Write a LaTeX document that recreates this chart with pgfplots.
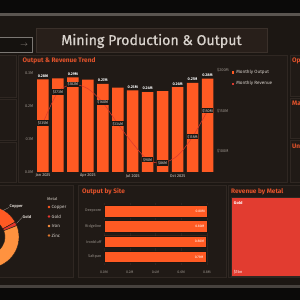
\documentclass[border=0pt]{standalone}
\usepackage{pgfplots}
\pgfplotsset{compat=1.18}
\usepackage{pgfplotstable}
\usepackage{fontspec}
\setmainfont{Fira Sans}
\newfontfamily\titlefont{Fira Sans}[FakeBold=0.6]

\definecolor{pagebg}{HTML}{1C1713}
\definecolor{panelbg}{HTML}{201A16}
\definecolor{panelrule}{HTML}{2F2722}
\definecolor{titlebg}{HTML}{281F1A}
\definecolor{titlerule}{HTML}{3A302A}
\definecolor{topbar}{HTML}{0B0A09}
\definecolor{rulegrey}{HTML}{5A5550}
\definecolor{gridline}{HTML}{2C2420}
\definecolor{accent}{HTML}{E4532B}
\definecolor{barorange}{HTML}{FF5A23}
\definecolor{linered}{HTML}{D9392E}
\definecolor{ticktext}{HTML}{968F88}
\definecolor{lighttext}{HTML}{D9D3CD}
\definecolor{copper}{HTML}{FF5A23}
\definecolor{gold}{HTML}{E3372D}
\definecolor{iron}{HTML}{FF923F}
\definecolor{zinc}{HTML}{D8752E}
\definecolor{treered}{HTML}{E23C30}

\newcommand{\fs}[1]{\fontsize{#1}{#1}\selectfont}
\pgfkeys{/pgf/number format/assume math mode=true}

% monthly output (M t) and revenue ($M); show* flags which labels are printed
\pgfplotstableread{
idx out showout rev showrev
0  0.281 1 135 1
1  0.284 0 173 1
2  0.287 1 182 1
3  0.280 0 177 0
4  0.267 1 160 1
5  0.256 0 134 1
6  0.247 1 110 0
7  0.242 1  90 1
8  0.245 0  86 1
9  0.257 1  95 0
10 0.270 1 118 1
11 0.283 1 150 1
}\trendtab

% output by site (M t)
\pgfplotstableread{
idx val
0 0.804
1 0.801
2 0.798
3 0.793
}\sitetab

% output share by metal (%)
\def\pCopper{17}
\def\pGold{2}
\def\pIron{65}
\def\pZinc{16}

% panel in top-down pixel units: x1 y1 x2 y2
\newcommand{\panel}[4]{%
  \filldraw[fill=panelbg, draw=panelrule, line width=0.6pt]
    ({#1pt},{(300-#2)*1pt}) rectangle ({#3pt},{(300-#4)*1pt});}

% donut slice between two angles
\newcommand{\slice}[3]{%
  \filldraw[fill=#3, draw=panelbg, line width=0.4pt]
    (axis cs:{31*cos(#1)},{31*sin(#1)}) arc[start angle=#1, end angle=#2, radius=31pt]
    -- (axis cs:{17*cos(#2)},{17*sin(#2)}) arc[start angle=#2, end angle=#1, radius=17pt] -- cycle;}

\begin{document}
\begin{tikzpicture}
\useasboundingbox (0,0) rectangle (300pt,300pt);
% page background
\fill[pagebg] (0,0) rectangle (300pt,300pt);
\fill[topbar] (0,{287*1pt}) rectangle (300pt,300pt);
\fill[rulegrey] (0,{284*1pt}) rectangle (300pt,{287*1pt});
\fill[topbar] (0,0) rectangle (300pt,{12*1pt});
\fill[rulegrey!70!pagebg] (0,{12*1pt}) rectangle (300pt,{15*1pt});

% header
\filldraw[fill=topbar!40!pagebg, draw=rulegrey!80, line width=0.6pt] (-2pt,{(300-37)*1pt}) rectangle (32pt,{(300-52)*1pt});
\node[text=ticktext, font=\fs{7}] at (24pt,{(300-45)*1pt}) {$\rightarrow$};
\filldraw[fill=titlebg, draw=titlerule, line width=0.6pt] (36pt,{(300-28)*1pt}) rectangle (267pt,{(300-52)*1pt});
\node[text=lighttext, font=\titlefont\fs{14.2}] at (151.5pt,{(300-41)*1pt}) {Mining Production \& Output};

% panels
\panel{-5}{55}{16}{97}
\panel{-5}{99}{16}{140}
\panel{-5}{142}{16}{182}
\panel{18}{55}{287}{182}
\panel{290}{55}{310}{96}
\panel{290}{98}{310}{138}
\panel{290}{140}{310}{182}
\panel{-5}{185}{73}{277}
\panel{78}{185}{226}{277}
\panel{228}{185}{310}{277}

% panel titles
\node[anchor=west, text=accent, font=\fs{6.5}\bfseries, inner sep=0pt] at (22.5pt,{(300-61)*1pt}) {Output \& Revenue Trend};
\node[anchor=west, text=accent, font=\fs{6.5}\bfseries, inner sep=0pt] at (292pt,{(300-61)*1pt}) {Operations};
\node[anchor=west, text=accent, font=\fs{6.5}\bfseries, inner sep=0pt] at (292pt,{(300-104)*1pt}) {Margin};
\node[anchor=west, text=accent, font=\fs{6.5}\bfseries, inner sep=0pt] at (292pt,{(300-146)*1pt}) {Unit Cost};
\node[anchor=west, text=accent, font=\fs{6.5}\bfseries, inner sep=0pt] at (82pt,{(300-192)*1pt}) {Output by Site};
\node[anchor=west, text=accent, font=\fs{6.5}\bfseries, inner sep=0pt] at (231pt,{(300-192)*1pt}) {Revenue by Metal};

% ---------- Output & Revenue Trend: bars on the left axis ----------
\begin{axis}[
  at={(35.5pt,128pt)}, anchor=south west, scale only axis,
  width=179.5pt, height=102.5pt,
  xmin=-0.5, xmax=11.5, ymin=0, ymax=0.3106,
  axis line style={draw=none}, tick style={draw=none},
  xtick={0,3,6,9}, xticklabels={Jan 2025,Apr 2025,Jul 2025,Oct 2025},
  ytick={0,0.1,0.2,0.3},
  yticklabel={\pgfmathprintnumber[fixed,precision=1,zerofill]{\tick}M},
  yticklabel style={font=\fs{4}, text=ticktext, inner sep=0pt, xshift=-2pt},
  xticklabel style={font=\fs{4}, text=lighttext, inner sep=0pt, yshift=-2pt},
  clip=false,
]
\addplot[ybar, bar width=11.5pt, fill=barorange, draw=none,
  point meta=explicit symbolic,
  visualization depends on={rawy \as \val},
  nodes near coords={\pgfmathprintnumber[fixed,precision=2,zerofill]{\val}M},
  nodes near coords style={anchor=south, font=\fs{3.8}\bfseries, text=white,
    fill=pagebg, inner sep=0.7pt, yshift=1.2pt,
    opacity=\pgfplotspointmeta, text opacity=\pgfplotspointmeta}]
  table[x=idx,y=out,meta=showout]{\trendtab};
\end{axis}

% ---------- revenue line on the right axis ----------
\begin{axis}[
  at={(35.5pt,128pt)}, anchor=south west, scale only axis,
  width=179.5pt, height=102.5pt,
  xmin=-0.5, xmax=11.5, ymin=75, ymax=200.5,
  xtick=\empty, yticklabel pos=right,
  axis line style={draw=none}, tick style={draw=none},
  ytick={100,150,200},
  yticklabel={\$\pgfmathprintnumber{\tick}M},
  yticklabel style={font=\fs{4}, text=ticktext, inner sep=0pt, xshift=2pt},
  clip=false,
  legend style={at={(1.092,1.017)}, anchor=north west, draw=none, fill=none,
    font=\fs{4.6}, text=lighttext, inner sep=0pt, row sep=2.6pt,
    cells={anchor=west}},
  legend image code/.code={\fill[#1] (0pt,-1.3pt) rectangle (2.6pt,1.3pt);},
]
\addlegendimage{fill=barorange, draw=none}
\addlegendentry{Monthly Output}
\addlegendimage{fill=linered, draw=none}
\addlegendentry{Monthly Revenue}
\addplot[linered, smooth, line width=0.5pt, forget plot,
  point meta=explicit symbolic,
  visualization depends on={rawy \as \val},
  nodes near coords={\$\pgfmathprintnumber[fixed,precision=0]{\val}M},
  nodes near coords style={anchor=center, font=\fs{3.8}, text=lighttext,
    fill=pagebg, inner sep=0.7pt,
    opacity=\pgfplotspointmeta, text opacity=\pgfplotspointmeta}]
  table[x=idx,y=rev,meta=showrev]{\trendtab};
\end{axis}

% ---------- donut: output share by metal ----------
\pgfmathsetmacro\aA{90-3.6*\pCopper}
\pgfmathsetmacro\aB{\aA-3.6*\pGold}
\pgfmathsetmacro\aC{\aB-3.6*\pIron}
\pgfmathsetmacro\aD{\aC-3.6*\pZinc}
\begin{axis}[
  at={(-43pt,32pt)}, anchor=south west, scale only axis,
  x=1pt, y=1pt, xmin=-31, xmax=31, ymin=-31, ymax=31,
  hide axis, clip=false,
]
\slice{90}{\aA}{copper}
\slice{\aA}{\aB}{gold}
\slice{\aB}{\aC}{iron}
\slice{\aC}{\aD}{zinc}
\draw[ticktext, line width=0.3pt] (axis cs:15,26.5) -- (axis cs:21,29.5);
\node[anchor=west, text=lighttext, font=\fs{4}\bfseries, inner sep=0.5pt] at (axis cs:21,30) {Copper};
\draw[ticktext, line width=0.3pt] (axis cs:28.5,13.5) -- (axis cs:34,19.5);
\node[anchor=west, text=lighttext, font=\fs{4}\bfseries, inner sep=0.5pt] at (axis cs:34,20) {Gold};
\end{axis}
% metal legend
\node[anchor=west, text=ticktext, font=\fs{4}\bfseries, inner sep=0pt] at (47pt,{(300-199.5)*1pt}) {Metal};
\foreach \c/\t/\y in {copper/Copper/207, gold/Gold/216.6, iron/Iron/226, zinc/Zinc/235.5}{
  \fill[\c] (49pt,{(300-\y)*1pt}) circle (1.4pt);
  \node[anchor=west, text=lighttext, font=\fs{4.5}, inner sep=0pt] at (51.5pt,{(300-\y)*1pt}) {\t};
}

% ---------- Output by Site ----------
\begin{axis}[
  at={(104pt,35.4pt)}, anchor=south west, scale only axis,
  width=110.7pt, height=61.2pt,
  xmin=0, xmax=0.86, ymin=-0.5, ymax=3.5, y dir=reverse,
  axis line style={draw=none}, tick style={draw=none},
  ytick={0,1,2,3}, yticklabels={Deepcore,Ridgeline,Ironbluff,Saltpan},
  xtick={0,0.2,0.4,0.6,0.8},
  xticklabel={\pgfmathprintnumber[fixed,precision=1,zerofill]{\tick}M},
  xmajorgrids, grid style={gridline, line width=0.3pt},
  yticklabel style={font=\fs{3.8}, text=ticktext, inner sep=0pt, xshift=-2.5pt},
  xticklabel style={font=\fs{3.6}, text=ticktext, inner sep=0pt, yshift=-6.5pt},
  clip=false,
]
\addplot[xbar, bar width=11.5pt, fill=barorange, draw=pagebg, line width=0.5pt, point meta=x,
  nodes near coords={\pgfmathprintnumber[fixed,precision=2,zerofill]{\pgfplotspointmeta}M},
  nodes near coords style={anchor=east, font=\fs{3.4}, text=white, inner sep=0pt, xshift=-2.5pt}]
  table[x=val,y=idx]{\sitetab};
\end{axis}

% ---------- Revenue by Metal treemap ----------
\begin{axis}[
  at={(231.5pt,24pt)}, anchor=south west, scale only axis,
  width=90pt, height=79pt,
  xmin=0, xmax=1, ymin=0, ymax=1, hide axis, clip=false,
]
\addplot[fill=treered, draw=panelrule, line width=0.6pt] coordinates {(0,0) (0.95,0) (0.95,1) (0,1)} -- cycle;
\node[anchor=north west, text=white, font=\fs{4}\bfseries, inner sep=0pt] at (rel axis cs:0.025,0.95) {Gold};
\node[anchor=south west, text=white, font=\fs{4}, inner sep=0pt] at (rel axis cs:0.025,0.02) {\$1bn};
\end{axis}
\end{tikzpicture}
\end{document}
